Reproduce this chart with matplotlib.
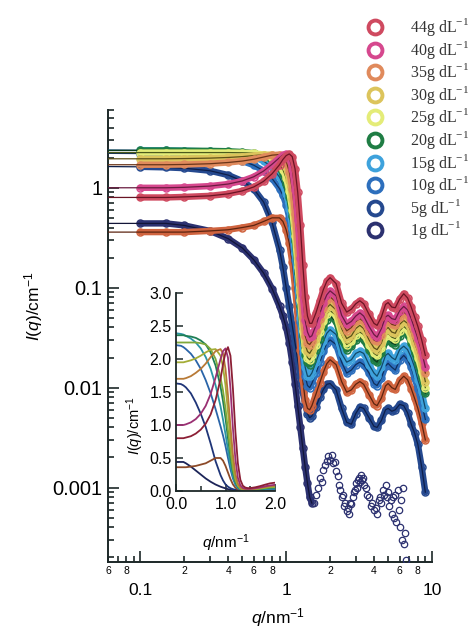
import numpy as np
import matplotlib
matplotlib.use("Agg")
import matplotlib.pyplot as plt
from matplotlib.lines import Line2D
from matplotlib.ticker import FixedLocator, FuncFormatter, NullFormatter

plt.rcParams['font.family'] = ['Liberation Sans', 'DejaVu Sans']
plt.rcParams['mathtext.fontset'] = 'custom'
plt.rcParams['mathtext.rm'] = 'Liberation Sans'
plt.rcParams['mathtext.it'] = 'Liberation Sans:italic'

# ---------------------------------------------------------------- data
# scattering vector (nm^-1) shared by the concentration series
q = [0.10, 0.15, 0.20, 0.30, 0.40, 0.50, 0.60, 0.70, 0.80, 0.90,
     0.95, 1.00, 1.05, 1.10, 1.15, 1.20, 1.25, 1.30, 1.35, 1.40,
     1.45, 1.50, 1.60, 1.70, 1.80, 1.90, 2.00, 2.20, 2.40, 2.60,
     2.80, 3.00, 3.20, 3.40, 3.70, 4.00, 4.20, 4.50, 4.80, 5.00,
     5.30, 5.60, 6.00, 6.40, 6.80, 7.20, 7.60, 8.00, 8.50, 9.00]

# scattered intensity I(q) in cm^-1
I_44 = [0.80, 0.80, 0.81, 0.83, 0.87, 0.93, 1.02, 1.16, 1.38, 1.70,
        1.92, 2.10, 2.18, 2.05, 1.55, 0.90, 0.42, 0.17, 0.080, 0.052,
        0.044, 0.044, 0.056, 0.074, 0.096, 0.116, 0.126, 0.110, 0.070, 0.057,
        0.061, 0.069, 0.074, 0.069, 0.054, 0.044, 0.042, 0.051, 0.068, 0.071,
        0.064, 0.063, 0.077, 0.087, 0.079, 0.064, 0.051, 0.041, 0.030, 0.021]
I_40 = [1.00, 1.00, 1.01, 1.04, 1.09, 1.17, 1.29, 1.47, 1.72, 2.00,
        2.12, 2.16, 2.02, 1.55, 0.95, 0.48, 0.20, 0.085, 0.047, 0.036,
        0.032, 0.033, 0.042, 0.055, 0.071, 0.085, 0.093, 0.083, 0.053, 0.043,
        0.046, 0.052, 0.056, 0.052, 0.041, 0.034, 0.032, 0.039, 0.051, 0.053,
        0.049, 0.048, 0.059, 0.065, 0.060, 0.049, 0.039, 0.031, 0.023, 0.016]
I_35 = [1.70, 1.70, 1.71, 1.74, 1.79, 1.85, 1.93, 2.03, 2.12, 2.15,
        2.08, 1.85, 1.45, 0.98, 0.55, 0.26, 0.11, 0.050, 0.033, 0.028,
        0.027, 0.029, 0.037, 0.049, 0.062, 0.075, 0.081, 0.072, 0.046, 0.037,
        0.040, 0.046, 0.049, 0.046, 0.036, 0.030, 0.029, 0.034, 0.045, 0.047,
        0.043, 0.042, 0.051, 0.057, 0.053, 0.043, 0.034, 0.028, 0.020, 0.014]
I_30 = [1.95, 1.95, 1.96, 1.98, 2.01, 2.05, 2.10, 2.14, 2.15, 2.05,
        1.88, 1.60, 1.20, 0.78, 0.42, 0.20, 0.090, 0.042, 0.027, 0.023,
        0.022, 0.024, 0.031, 0.041, 0.053, 0.063, 0.068, 0.060, 0.039, 0.031,
        0.033, 0.039, 0.042, 0.039, 0.030, 0.025, 0.024, 0.028, 0.038, 0.040,
        0.036, 0.035, 0.043, 0.047, 0.044, 0.036, 0.028, 0.023, 0.017, 0.0115]
I_25 = [2.25, 2.25, 2.25, 2.25, 2.25, 2.24, 2.22, 2.15, 2.00, 1.72,
        1.52, 1.25, 0.92, 0.60, 0.33, 0.16, 0.075, 0.037, 0.024, 0.020,
        0.019, 0.021, 0.027, 0.036, 0.046, 0.055, 0.059, 0.053, 0.034, 0.027,
        0.029, 0.034, 0.036, 0.034, 0.027, 0.022, 0.021, 0.025, 0.033, 0.035,
        0.032, 0.031, 0.037, 0.041, 0.038, 0.031, 0.025, 0.020, 0.0145, 0.010]
I_20 = [2.36, 2.36, 2.35, 2.34, 2.32, 2.28, 2.22, 2.10, 1.90, 1.58,
        1.36, 1.10, 0.80, 0.52, 0.29, 0.14, 0.066, 0.033, 0.021, 0.018,
        0.017, 0.019, 0.024, 0.031, 0.040, 0.048, 0.052, 0.046, 0.030, 0.024,
        0.026, 0.030, 0.032, 0.030, 0.024, 0.019, 0.018, 0.022, 0.029, 0.031,
        0.028, 0.027, 0.033, 0.037, 0.034, 0.028, 0.022, 0.017, 0.0125, 0.0088]
I_15 = [2.38, 2.37, 2.35, 2.31, 2.25, 2.16, 2.03, 1.85, 1.60, 1.28,
        1.08, 0.86, 0.62, 0.40, 0.22, 0.11, 0.050, 0.025, 0.016, 0.013,
        0.013, 0.014, 0.018, 0.023, 0.029, 0.035, 0.038, 0.034, 0.022, 0.018,
        0.019, 0.022, 0.023, 0.022, 0.017, 0.014, 0.013, 0.016, 0.021, 0.022,
        0.020, 0.019, 0.024, 0.026, 0.024, 0.020, 0.016, 0.012, 0.009, 0.0062]
I_10 = [2.20, 2.18, 2.15, 2.08, 1.98, 1.85, 1.68, 1.48, 1.24, 0.98,
        0.84, 0.68, 0.50, 0.33, 0.19, 0.095, 0.045, 0.022, 0.013, 0.0105,
        0.010, 0.011, 0.014, 0.018, 0.023, 0.028, 0.030, 0.027, 0.018, 0.014,
        0.015, 0.017, 0.018, 0.017, 0.014, 0.011, 0.0105, 0.0125, 0.0165, 0.0175,
        0.016, 0.015, 0.019, 0.021, 0.019, 0.016, 0.0125, 0.0098, 0.007, 0.0048]
# additional series drawn without a legend entry
I_x = [0.36, 0.36, 0.36, 0.37, 0.38, 0.40, 0.42, 0.46, 0.50, 0.50,
       0.46, 0.38, 0.28, 0.18, 0.10, 0.050, 0.024, 0.012, 0.0075, 0.0062,
       0.0060, 0.0066, 0.0086, 0.0112, 0.0143, 0.0174, 0.019, 0.017, 0.0115, 0.009,
       0.0095, 0.0108, 0.0115, 0.0108, 0.0085, 0.0069, 0.0066, 0.0079, 0.0104, 0.011,
       0.010, 0.0096, 0.0118, 0.0130, 0.0120, 0.0098, 0.0078, 0.0062, 0.0044, 0.003]
I_5 = [1.62, 1.60, 1.57, 1.48, 1.34, 1.17, 0.97, 0.72, 0.45, 0.24,
       0.16, 0.10, 0.065, 0.042, 0.028, 0.019, 0.013, 0.0090, 0.0068, 0.0055,
       0.0050, 0.0052, 0.0064, 0.0080, 0.0096, 0.0108, 0.0110, 0.0095, 0.0062, 0.0045,
       0.0043, 0.0055, 0.0064, 0.0062, 0.0050, 0.0041, 0.0040, 0.0047, 0.0060, 0.0062,
       0.0058, 0.0060, 0.0068, 0.0066, 0.0056, 0.0043, 0.0035, 0.0027, 0.0016, 0.0009]
# 1 g/dL: low-q part on the first 22 q values, then the noisy tail
I_1 = [0.44, 0.44, 0.42, 0.37, 0.31, 0.25, 0.19, 0.14, 0.098, 0.065,
       0.052, 0.040, 0.028, 0.018, 0.011, 0.0065, 0.0040, 0.0025, 0.0016, 0.0011,
       0.0008, 0.0007]
q_1_tail = [1.55, 1.60, 1.65, 1.70, 1.75, 1.80, 1.85, 1.90, 1.95, 2.00,
            2.05, 2.10, 2.15, 2.20, 2.25, 2.30, 2.35, 2.40, 2.45, 2.50,
            2.55, 2.60, 2.65, 2.70, 2.75, 2.80, 2.85, 2.90, 2.95, 3.00,
            3.05, 3.10, 3.15, 3.20, 3.25, 3.30, 3.35, 3.40, 3.50, 3.60,
            3.70, 3.80, 3.90, 4.00, 4.10, 4.20, 4.30, 4.40, 4.50, 4.60,
            4.70, 4.80, 4.90, 5.00, 5.10, 5.20, 5.30, 5.40, 5.50, 5.60,
            5.70, 5.80, 5.90, 6.00, 6.10, 6.20, 6.30, 6.40, 6.50, 6.60]
I_1_tail = [7.0e-4, 8.5e-4, 1.0e-3, 1.25e-3, 1.15e-3, 1.5e-3, 1.7e-3, 1.85e-3, 2.05e-3, 1.9e-3,
            2.1e-3, 1.75e-3, 1.8e-3, 1.45e-3, 1.3e-3, 1.05e-3, 9.5e-4, 8.0e-4, 8.5e-4, 6.5e-4,
            7.0e-4, 5.8e-4, 6.2e-4, 5.5e-4, 7.0e-4, 6.8e-4, 8.0e-4, 9.0e-4, 9.5e-4, 1.1e-3,
            1.0e-3, 1.2e-3, 1.25e-3, 1.15e-3, 1.35e-3, 1.2e-3, 1.25e-3, 1.05e-3, 1.0e-3, 8.5e-4,
            8.0e-4, 6.5e-4, 7.0e-4, 6.0e-4, 6.2e-4, 5.5e-4, 7.5e-4, 8.0e-4, 7.0e-4, 9.5e-4,
            8.5e-4, 1.05e-3, 8.0e-4, 9.0e-4, 6.5e-4, 7.5e-4, 5.5e-4, 8.0e-4, 5.0e-4, 8.5e-4,
            4.5e-4, 9.5e-4, 6.0e-4, 4.0e-4, 7.5e-4, 3.0e-4, 1.0e-3, 2.7e-4, 3.5e-4, 1.9e-4]

# forward scattering I(0) of each fitted curve (same order as `series_keys`)
I_zero = [0.80, 1.00, 1.70, 1.95, 2.25, 2.36, 2.39, 2.21, 0.36, 1.63, 0.44]

series_keys = ["44", "40", "35", "30", "25", "20", "15", "10", "x", "5", "1"]
legend_keys = ["44", "40", "35", "30", "25", "20", "15", "10", "5", "1"]

band_colors = ["#cf4a60", "#d6488e", "#e08a5c", "#dcc45c", "#e4ec78",
               "#1f7d44", "#3ea2dc", "#2d6fbd", "#d0643f", "#25498f", "#2c3170"]
fit_colors = ["#6a1424", "#6a1c40", "#6a3418", "#5c5018", "#4c5a1c",
              "#0c3c1e", "#124a6a", "#0f2f5c", "#5c2410", "#0e1f4a", "#121538"]
inset_colors = ["#8c1f35", "#9a2f72", "#b87a36", "#a4ad36", "#7fa83a",
                "#1f7f55", "#2a95a5", "#2a64a8", "#8c4a28", "#1f3578", "#1c2458"]

# ---------------------------------------------------------------- figure
fig = plt.figure(figsize=(4.73, 6.30), dpi=100)
W, H = 473, 630
ax = fig.add_axes([108 / W, 1 - 562 / H, (432 - 108) / W, (562 - 110) / H])
ax.set_xscale("log")
ax.set_yscale("log")
ax.set_xlim(0.06, 10)
ax.set_ylim(1.8e-4, 6)

curves = {"44": I_44, "40": I_40, "35": I_35, "30": I_30, "25": I_25,
          "20": I_20, "15": I_15, "10": I_10, "x": I_x, "5": I_5}
qa = np.array(q)
x_left = ax.get_xlim()[0]

draw_order = ["1", "5", "x", "10", "15", "20", "25", "30", "35", "40", "44"]
for key in draw_order:
    i = series_keys.index(key)
    bc, fc = band_colors[i], fit_colors[i]
    z = 3 + draw_order.index(key) * 0.1
    if key == "1":
        qd = qa[:len(I_1)]
        Id = np.array(I_1)
        ax.plot(q_1_tail, I_1_tail, ls="none", marker="o", ms=4.6, mfc="none",
                mec=bc, mew=0.9, zorder=z)
    else:
        qd = qa
        Id = np.array(curves[key])
    ax.plot(qd, Id, color=bc, lw=4.6, zorder=z, solid_capstyle="round")
    ax.plot(qd, Id, ls="none", marker="o", ms=5.0, mfc="none", mec=bc, mew=1.1, zorder=z)
    ax.plot(np.r_[x_left, qd], np.r_[I_zero[i], Id], color=fc, lw=0.9, zorder=z + 0.05)

spine_col = "#1c2828"
for s in ("top", "right"):
    ax.spines[s].set_visible(False)
for s in ("left", "bottom"):
    ax.spines[s].set_color(spine_col)
    ax.spines[s].set_linewidth(1.4)

ax.xaxis.set_major_locator(FixedLocator([0.1, 1, 10]))
ax.xaxis.set_major_formatter(FuncFormatter(lambda v, p: {0.1: "0.1", 1: "1", 10: "10"}.get(round(v, 3), "")))
xminor = [0.06, 0.07, 0.08, 0.09] + [k * 0.1 for k in range(2, 10)] + [float(k) for k in range(2, 10)]
ax.xaxis.set_minor_locator(FixedLocator(xminor))
def _minor_lab(v, p):
    m = v / 10 ** np.floor(np.log10(v) + 1e-9)
    d = int(round(m))
    return str(d) if d in (2, 4, 6, 8) else ""
ax.xaxis.set_minor_formatter(FuncFormatter(_minor_lab))

ax.yaxis.set_major_locator(FixedLocator([1e-3, 1e-2, 1e-1, 1]))
ax.yaxis.set_major_formatter(FuncFormatter(lambda v, p: {-3: "0.001", -2: "0.01", -1: "0.1", 0: "1"}[int(round(np.log10(v)))]))
yminor = [k * 10.0 ** e for e in range(-4, 1) for k in range(2, 10)]
ax.yaxis.set_minor_locator(FixedLocator(yminor))
ax.yaxis.set_minor_formatter(NullFormatter())

ax.tick_params(axis="both", which="both", direction="in", color=spine_col, width=1.2)
ax.tick_params(axis="both", which="major", length=8)
ax.tick_params(axis="both", which="minor", length=4.5)
ax.tick_params(axis="x", which="major", labelsize=12.5, pad=15)
ax.tick_params(axis="x", which="minor", labelsize=7.5, pad=3)
ax.tick_params(axis="y", which="major", labelsize=14.5, pad=4)

ax.set_ylabel(r"$\mathit{I}$($\mathit{q}$)/cm$^{\mathregular{-1}}$", fontsize=12.5)
ax.yaxis.set_label_coords(-0.195, 0.565)
ax.set_xlabel(r"$\mathit{q}$/nm$^{\mathregular{-1}}$", fontsize=12.5)
ax.xaxis.set_label_coords(0.525, -0.098)

# ---------------------------------------------------------------- inset (linear axes)
axi = fig.add_axes([176 / W, 1 - 491 / H, (275 - 176) / W, (491 - 293) / H])
axi.patch.set_alpha(0)
lin_mask = qa <= 2.0
for key in draw_order:
    i = series_keys.index(key)
    if key == "1":
        qd = qa[:len(I_1)]
        Id = np.array(I_1)
    else:
        qd = qa[lin_mask]
        Id = np.array(curves[key])[lin_mask]
    axi.plot(np.r_[0.0, qd], np.r_[I_zero[i], Id], color=inset_colors[i], lw=1.3)
axi.set_xlim(0, 2.0)
axi.set_ylim(0, 3.0)
for s in ("top", "right"):
    axi.spines[s].set_visible(False)
for s in ("left", "bottom"):
    axi.spines[s].set_color(spine_col)
    axi.spines[s].set_linewidth(1.3)
axi.set_xticks([0, 1, 2])
axi.set_xticklabels(["0.0", "1.0", "2.0"])
axi.set_xticks([0.5, 1.5], minor=True)
axi.set_yticks([0, 0.5, 1.0, 1.5, 2.0, 2.5, 3.0])
axi.set_yticklabels(["0.0", "0.5", "1.0", "1.5", "2.0", "2.5", "3.0"])
axi.tick_params(axis="both", which="both", direction="in", color=spine_col, width=1.1,
                labelsize=11.5)
axi.tick_params(axis="y", which="both", pad=3)
axi.tick_params(axis="x", which="both", pad=4)
axi.tick_params(axis="both", which="major", length=5)
axi.tick_params(axis="both", which="minor", length=3.5)
axi.set_ylabel(r"$\mathit{I}$($\mathit{q}$)/cm$^{\mathregular{-1}}$", fontsize=10.5)
axi.yaxis.set_label_coords(-0.30, 0.33)
axi.set_xlabel(r"$\mathit{q}$/nm$^{\mathregular{-1}}$", fontsize=11)
axi.xaxis.set_label_coords(0.5, -0.21)

# ---------------------------------------------------------------- key (placed row by row)
key_x_marker, key_x_text = 375 / W, 410 / W
key_top, key_pitch = 27 / H, 22.6 / H
for row, key in enumerate(legend_keys):
    i = series_keys.index(key)
    yk = 1 - key_top - row * key_pitch
    fig.add_artist(Line2D([key_x_marker], [yk], transform=fig.transFigure, ls="none",
                          marker="o", ms=10, mfc="none", mec=band_colors[i], mew=2.8))
    fig.text(key_x_text, yk, key + r"g dL$^{\mathregular{-1}}$", family="Liberation Serif",
             fontsize=11.5, ha="left", va="center", color="#333333")

fig.savefig("out.png", dpi=100)
